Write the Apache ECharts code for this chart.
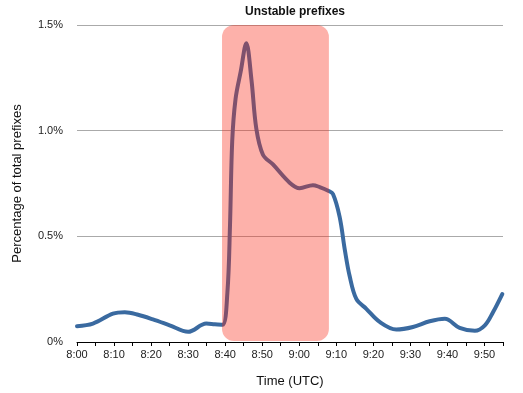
<!DOCTYPE html>
<html>
<head>
<meta charset="utf-8">
<script src="https://cdn.jsdelivr.net/npm/echarts@6/dist/echarts.min.js"></script>
<style>html,body{margin:0;padding:0;background:#fff}#c{width:523px;height:393px}</style>
</head>
<body>
<div id="c"></div>
<script>
// minutes after 8:00 (UTC)
var minutes = [0, 4.3, 9.7, 12.9, 16.5, 20.5, 25.0, 30.0, 34.9, 37.2, 39.3, 40.6, 41.3, 41.9, 42.8, 44.2, 45.7, 47.1, 48.4, 50.2, 52.9, 57.4, 60.1, 63.7, 65.5, 67.8, 69.1, 70.9, 72.3, 73.6, 75.4, 78.1, 81.7, 86.2, 90.7, 95.2, 99.3, 103.3, 107.4, 110.1, 112.3, 114.8];
// percentage of total prefixes
var percent = [0.075, 0.087, 0.134, 0.141, 0.129, 0.107, 0.079, 0.048, 0.087, 0.084, 0.082, 0.234, 0.55, 0.95, 1.15, 1.28, 1.414, 1.24, 1.01, 0.886, 0.84, 0.754, 0.728, 0.742, 0.733, 0.716, 0.70, 0.592, 0.436, 0.312, 0.204, 0.157, 0.095, 0.059, 0.071, 0.098, 0.11, 0.067, 0.053, 0.079, 0.141, 0.227];
// highlighted incident window (minutes after 8:00, percent range)
var windowStart = 39.15, windowEnd = 68.0;
var windowLow = 0, windowHigh = 1.5;
var yTicks = [0, 0.5, 1.0, 1.5];

var fontFam = "'Liberation Sans', Arial, Helvetica, sans-serif";
function fmtTime(v){
  if (v % 10 !== 0) return '';
  var h = 8 + Math.floor(v/60), m = v % 60;
  return h + ':' + (m < 10 ? '0' + m : m);
}
var lineData = minutes.map(function(m,i){ return [m, percent[i]]; });

var chart = echarts.init(document.getElementById('c'), null, {renderer:'canvas'});
chart.setOption({
  animation: false,
  backgroundColor: '#fff',
  title: {
    text: 'Unstable prefixes', left: 290, textAlign: 'center', top: 1,
    textStyle: {fontFamily: fontFam, fontSize: 12, fontWeight: 'bold', color: '#111'}
  },
  grid: {left: 77, right: 20, top: 25, bottom: 46, containLabel: false},
  xAxis: {
    type: 'value', min: 0, max: 115, interval: 5,
    name: 'Time (UTC)', nameLocation: 'middle', nameGap: 33,
    nameTextStyle: {fontFamily: fontFam, fontSize: 13, color: '#111'},
    axisLine: {show: true, lineStyle: {color: '#000', width: 1}},
    axisTick: {show: true, length: 4, lineStyle: {color: '#000'}},
    axisLabel: {formatter: fmtTime, fontFamily: fontFam, fontSize: 11, color: '#222', margin: 7, showMinLabel: true, showMaxLabel: true, hideOverlap: false},
    splitLine: {show: false}
  },
  yAxis: {
    type: 'value', min: yTicks[0], max: yTicks[yTicks.length-1], interval: 0.5,
    name: 'Percentage of total prefixes', nameLocation: 'middle', nameGap: 53, nameRotate: 90,
    nameTextStyle: {fontFamily: fontFam, fontSize: 13, color: '#111'},
    axisLine: {show: false}, axisTick: {show: false},
    axisLabel: {formatter: function(v){ return v === 0 ? '0%' : v.toFixed(1) + '%'; }, fontFamily: fontFam, fontSize: 11, color: '#222', margin: 14},
    splitLine: {show: true, lineStyle: {color: '#aaa', width: 1}}
  },
  series: [
    {
      type: 'line', data: lineData, smooth: 0.35, showSymbol: false, symbol: 'none', z: 2,
      lineStyle: {color: '#3a6aa0', width: 4, cap: 'round', join: 'round'}
    },
    {
      type: 'custom', z: 5, silent: true,
      data: [[windowStart, windowEnd, windowLow, windowHigh]],
      renderItem: function(params, api){
        var p1 = api.coord([api.value(0), api.value(3)]);
        var p2 = api.coord([api.value(1), api.value(2)]);
        return {
          type: 'rect',
          shape: {x: p1[0], y: p1[1], width: p2[0]-p1[0], height: p2[1]-p1[1]-1, r: 12},
          style: {fill: 'rgba(250,40,20,0.36)'}
        };
      }
    }
  ]
});
</script>
</body>
</html>
